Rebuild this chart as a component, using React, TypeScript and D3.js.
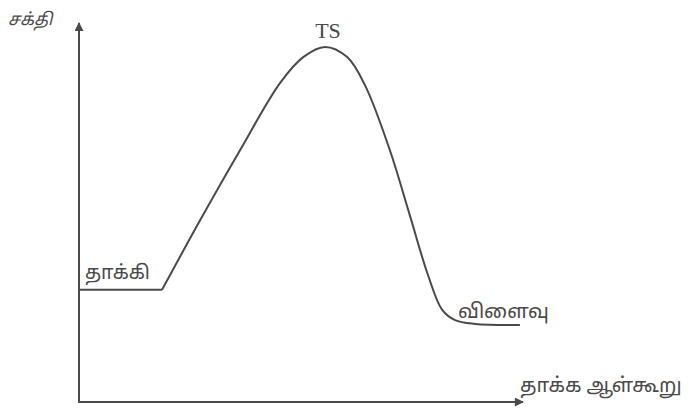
import { useEffect, useRef } from "react";
import * as d3 from "d3";

// reaction coordinate (0..100) and energy (0..100)
const reactantX = [0, 18.7];
const reactantE = [29.6, 29.6];

const pathX = [18.7, 27.3, 36.3, 45.3, 50.5, 55.4, 60.4, 64.4, 70.0, 74.5, 78.6, 81.8, 84.7, 89.2, 99.3];
const pathE = [29.6, 48.0, 66.5, 84.2, 91.0, 93.7, 91.0, 83.6, 66.5, 49.3, 33.5, 24.3, 21.6, 20.6, 20.3];

const labels = {
  yAxis: "சக்தி",
  xAxis: "தாக்க ஆள்கூறு",
  ts: "TS",
  reactant: "தாக்கி",
  product: "விளைவு",
};

const W = 691;
const H = 413;
const ink = "#4a4a4a";

const App = () => {
  const ref = useRef<SVGSVGElement>(null);

  useEffect(() => {
    document.body.style.margin = "0";
    const svg = d3.select(ref.current);
    svg.selectAll("*").remove();

    const x = d3.scaleLinear().domain([0, 100]).range([79, 523]);
    const y = d3.scaleLinear().domain([0, 100]).range([402, 23]);

    const defs = svg.append("defs");
    defs
      .append("marker")
      .attr("id", "arrow")
      .attr("viewBox", "0 0 10 10")
      .attr("refX", 9)
      .attr("refY", 5)
      .attr("markerWidth", 11)
      .attr("markerHeight", 9)
      .attr("markerUnits", "userSpaceOnUse")
      .attr("orient", "auto")
      .append("path")
      .attr("d", "M0,0 L10,5 L0,10 Z")
      .attr("fill", ink);

    // axes
    svg
      .append("line")
      .attr("x1", x(0))
      .attr("y1", y(0))
      .attr("x2", x(0))
      .attr("y2", y(100))
      .attr("stroke", ink)
      .attr("stroke-width", 2)
      .attr("marker-end", "url(#arrow)");
    svg
      .append("line")
      .attr("x1", x(0) - 1)
      .attr("y1", y(0))
      .attr("x2", x(100))
      .attr("y2", y(0))
      .attr("stroke", ink)
      .attr("stroke-width", 2)
      .attr("marker-end", "url(#arrow)");

    const flat = d3
      .line<number>()
      .x((d) => x(reactantX[d]))
      .y((d) => y(reactantE[d]));
    svg
      .append("path")
      .attr("d", flat(d3.range(reactantX.length)))
      .attr("fill", "none")
      .attr("stroke", ink)
      .attr("stroke-width", 2);

    const curve = d3
      .line<number>()
      .x((d) => x(pathX[d]))
      .y((d) => y(pathE[d]))
      .curve(d3.curveCatmullRom.alpha(0.5));
    svg
      .append("path")
      .attr("d", curve(d3.range(pathX.length)))
      .attr("fill", "none")
      .attr("stroke", ink)
      .attr("stroke-width", 2);

    const tamil = "'Noto Sans Tamil', 'Lohit Tamil', 'Noto Sans', sans-serif";

    svg
      .append("text")
      .attr("x", 8)
      .attr("y", 25)
      .attr("font-family", tamil)
      .attr("font-style", "italic")
      .attr("font-size", 17)
      .attr("fill", ink)
      .text(labels.yAxis);

    svg
      .append("text")
      .attr("x", 328)
      .attr("y", 38)
      .attr("text-anchor", "middle")
      .attr("font-family", "'Liberation Serif', 'DejaVu Serif', serif")
      .attr("font-size", 22)
      .attr("fill", ink)
      .text(labels.ts);

    svg
      .append("text")
      .attr("x", 85)
      .attr("y", 279)
      .attr("font-family", tamil)
      .attr("font-size", 19.5)
      .attr("fill", ink)
      .text(labels.reactant);

    svg
      .append("text")
      .attr("x", 458)
      .attr("y", 318)
      .attr("font-family", tamil)
      .attr("font-size", 20)
      .attr("fill", ink)
      .text(labels.product);

    svg
      .append("text")
      .attr("x", 520)
      .attr("y", 392)
      .attr("font-family", tamil)
      .attr("font-size", 20)
      .attr("fill", ink)
      .text(labels.xAxis);
  }, []);

  return <svg ref={ref} width={W} height={H} style={{ display: "block", background: "#fff" }} />;
};

export default App;
